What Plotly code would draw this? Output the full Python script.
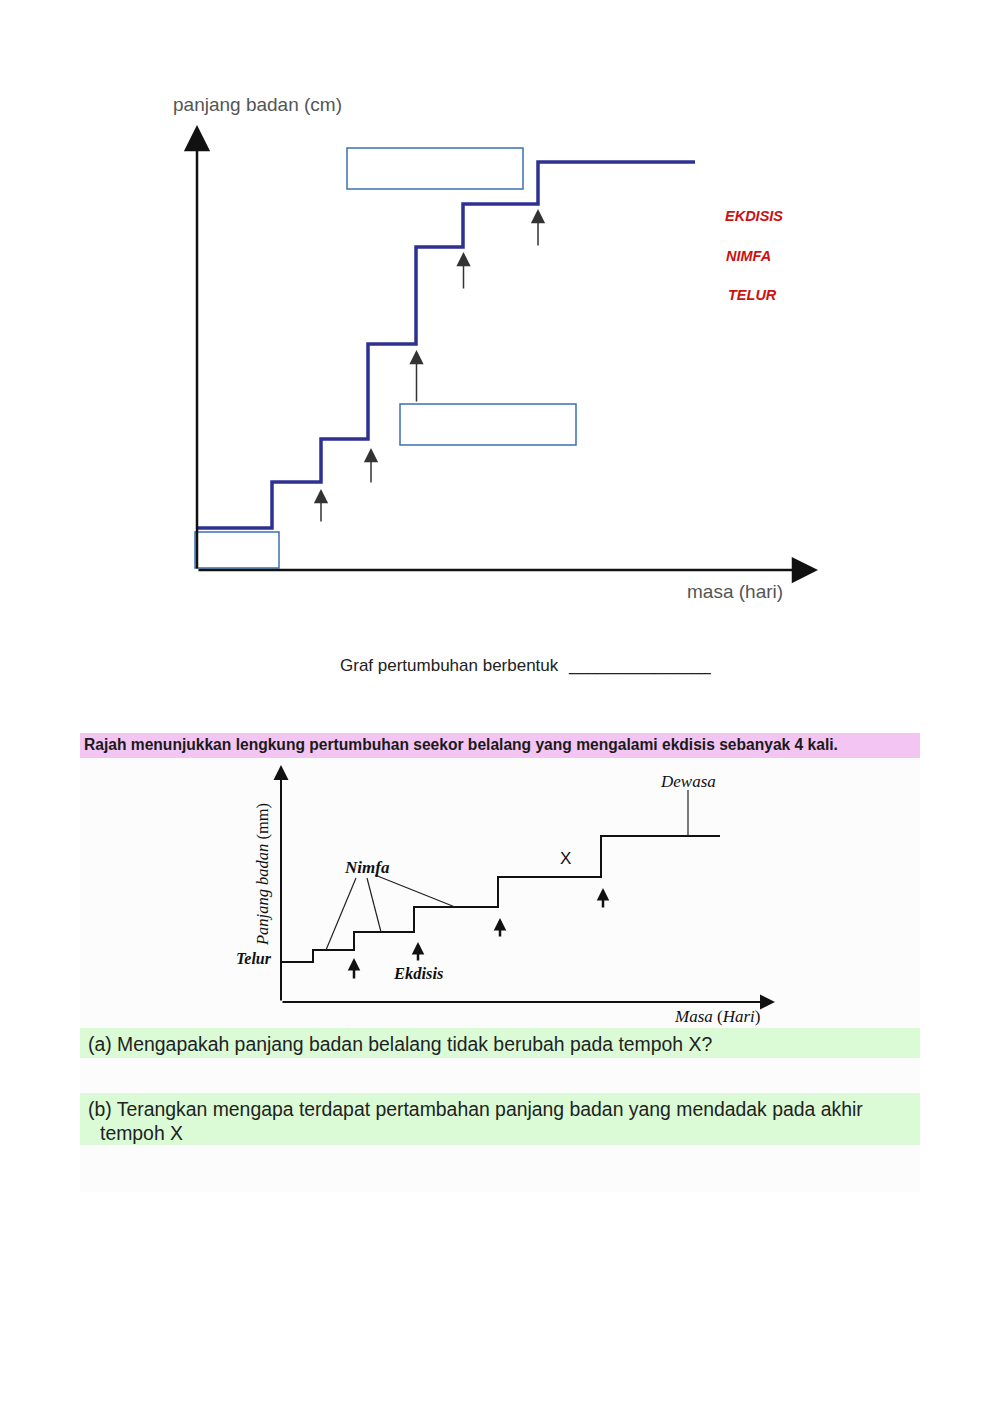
import plotly.graph_objects as go

# page offset: the browser body has an 8px margin
OFF = 8
W, H = 1000 - OFF, 1413 - OFF

# ---------------- data ----------------
# top chart: body length (cm) vs time (days), arbitrary units
top_days = [0, 7.5, 12.4, 17.1, 21.9, 26.6, 34.1, 49.8]
top_length = [4.2, 8.8, 13.1, 22.6, 32.3, 36.6, 40.8, 40.8]
top_moult_days = [12.4, 17.4, 21.95, 26.65, 34.1]
top_moult_from = [4.7, 8.6, 16.7, 28.0, 32.3]
top_moult_to = [8.1, 12.2, 22.0, 31.8, 36.1]
top_words = ["EKDISIS", "NIMFA", "TELUR"]

# bottom chart: grasshopper body length (mm) vs time (days)
bot_days = [0, 3.2, 7.3, 13.3, 21.7, 32.0, 43.9]
bot_length = [4.0, 5.2, 7.0, 9.5, 12.5, 16.6, 16.6]
bot_moult_days = [7.3, 13.7, 21.9, 32.2]
bot_moult_from = [2.2, 4.0, 6.4, 9.3]
bot_moult_to = [4.4, 6.0, 8.4, 11.4]


def px(x):
    return (x - OFF) / W


def py(y):
    return 1 - (y - OFF) / H


fig = go.Figure()

# top chart trace
fig.add_trace(go.Scatter(x=top_days, y=top_length, mode="lines", line_shape="hv",
                         line=dict(color="#2e3192", width=3.5), xaxis="x", yaxis="y",
                         hoverinfo="skip"))
# bottom chart trace
fig.add_trace(go.Scatter(x=bot_days, y=bot_length, mode="lines", line_shape="hv",
                         line=dict(color="#111111", width=2), xaxis="x2", yaxis="y2",
                         hoverinfo="skip"))

# Nimfa pointer lines & Dewasa line (bottom chart)
nimfa_lines = [((7.5, 12.4), (4.5, 5.2)), ((8.6, 12.4), (10.0, 7.0)), ((9.4, 12.7), (17.4, 9.5))]
for (a, b) in nimfa_lines:
    fig.add_trace(go.Scatter(x=[a[0], b[0]], y=[a[1], b[1]], mode="lines",
                             line=dict(color="#222222", width=1.2), xaxis="x2", yaxis="y2",
                             hoverinfo="skip"))
fig.add_trace(go.Scatter(x=[40.7, 40.7], y=[21.2, 16.6], mode="lines",
                         line=dict(color="#222222", width=1.2), xaxis="x2", yaxis="y2",
                         hoverinfo="skip"))

shapes = []
# bottom section backgrounds
shapes.append(dict(type="rect", xref="paper", yref="paper", x0=px(80), x1=px(920),
                   y0=py(1192), y1=py(758), fillcolor="#fcfcfc", line_width=0, layer="below"))
shapes.append(dict(type="rect", xref="paper", yref="paper", x0=px(80), x1=px(920),
                   y0=py(758), y1=py(733), fillcolor="#f3c5f3", line_width=0, layer="below"))
shapes.append(dict(type="rect", xref="paper", yref="paper", x0=px(80), x1=px(920),
                   y0=py(1058), y1=py(1028), fillcolor="#dafbd6", line_width=0, layer="below"))
shapes.append(dict(type="rect", xref="paper", yref="paper", x0=px(80), x1=px(920),
                   y0=py(1145), y1=py(1093), fillcolor="#dafbd6", line_width=0, layer="below"))

# answer boxes on the top chart
for (x0, y0, x1, y1) in [(347, 148, 523, 189), (400, 404, 576, 445), (195, 532, 279, 568)]:
    shapes.append(dict(type="rect", xref="paper", yref="paper", x0=px(x0), x1=px(x1),
                       y0=py(y1), y1=py(y0), fillcolor="white",
                       line=dict(color="#3d70b2", width=1.5), layer="above"))

ann = []
# axes drawn as arrows
ann.append(dict(x=62.1, y=0, ax=0, ay=0, xref="x", yref="y", axref="x", ayref="y", text="",
                showarrow=True, arrowhead=2, arrowsize=2.1, arrowwidth=2.5, arrowcolor="#111111"))
ann.append(dict(x=0, y=44.5, ax=0, ay=0, xref="x", yref="y", axref="x", ayref="y", text="",
                showarrow=True, arrowhead=2, arrowsize=2.1, arrowwidth=2.5, arrowcolor="#111111"))
ann.append(dict(x=49.4, y=0, ax=0, ay=0, xref="x2", yref="y2", axref="x2", ayref="y2", text="",
                showarrow=True, arrowhead=2, arrowsize=1.5, arrowwidth=2, arrowcolor="#111111"))
ann.append(dict(x=0, y=23.7, ax=0, ay=0, xref="x2", yref="y2", axref="x2", ayref="y2", text="",
                showarrow=True, arrowhead=2, arrowsize=1.5, arrowwidth=2, arrowcolor="#111111"))

for xd, y0, y1 in zip(top_moult_days, top_moult_from, top_moult_to):
    ann.append(dict(x=xd, y=y1, ax=xd, ay=y0, xref="x", yref="y", axref="x", ayref="y", text="",
                    showarrow=True, arrowhead=2, arrowsize=1.9, arrowwidth=1.5, arrowcolor="#333333"))
for xd, y0, y1 in zip(bot_moult_days, bot_moult_from, bot_moult_to):
    ann.append(dict(x=xd, y=y1, ax=xd, ay=y0, xref="x2", yref="y2", axref="x2", ayref="y2", text="",
                    showarrow=True, arrowhead=2, arrowsize=1.0, arrowwidth=2.5, arrowcolor="#111111"))


def label(text, x, y, size, color="#111111", family="Liberation Sans", xanchor="left", textangle=0):
    ann.append(dict(text=text, x=px(x), y=py(y), xref="paper", yref="paper", showarrow=False,
                    xanchor=xanchor, yanchor="middle", textangle=textangle,
                    font=dict(size=size, color=color, family=family)))


# top chart texts
label("panjang badan (cm)", 171, 105, 19, color="#555555")
label("masa (hari)", 685, 592, 19, color="#555555")
for word, yy, xx in zip(top_words, [216, 256, 295], [723, 724, 726]):
    label("<b><i>" + word + "</i></b>", xx, yy, 14.5, color="#cc1111")

label("Graf pertumbuhan berbentuk", 338, 665, 17, color="#222222")
label("_______________", 566, 665, 17, color="#222222")

# bottom section texts
label("<b>Rajah menunjukkan lengkung pertumbuhan seekor belalang yang mengalami ekdisis sebanyak 4 kali.</b>",
      82, 745, 15.6, color="#1a1a1a")
serif = "Liberation Serif"
label("<b><i>Telur</i></b>", 274, 958, 16, family=serif, xanchor="right")
label("<b><i>Nimfa</i></b>", 367, 867, 17, family=serif, xanchor="center")
label("<b><i>Ekdisis</i></b>", 418, 973, 16.5, family=serif, xanchor="center")
label("<i>Dewasa</i>", 688, 782, 17, family=serif, xanchor="center")
label("X", 565, 858, 17, xanchor="center")
label("<i>Masa</i> (<i>Hari</i>)", 717, 1016, 17, family=serif, xanchor="center")
label("<i>Panjang badan</i> (mm)", 262, 875, 16.5, family=serif, xanchor="center", textangle=-90)

label("(a) Mengapakah panjang badan belalang tidak berubah pada tempoh X?", 86, 1044, 19.4, color="#222222")
label("(b) Terangkan mengapa terdapat pertambahan panjang badan yang mendadak pada akhir",
      86, 1109, 19.4, color="#222222")
label("tempoh X", 98, 1133, 19.4, color="#222222")

# axes: top chart origin at pixel (197,570), bottom at (281,1002), 10 px per unit
fig.update_layout(
    width=W, height=H, margin=dict(l=0, r=0, t=0, b=0),
    paper_bgcolor="white", plot_bgcolor="rgba(0,0,0,0)", showlegend=False,
    xaxis=dict(domain=[px(170), px(850)], range=[-2.7, 65.3], visible=False, fixedrange=True),
    yaxis=dict(domain=[py(590), py(110)], range=[-2.0, 46.0], visible=False, fixedrange=True),
    xaxis2=dict(domain=[px(260), px(790)], range=[-2.1, 50.9], visible=False, fixedrange=True,
                anchor="y2"),
    yaxis2=dict(domain=[py(1015), py(755)], range=[-1.3, 24.7], visible=False, fixedrange=True,
                anchor="x2"),
    shapes=shapes, annotations=ann,
)

fig.write_html("out.html")
